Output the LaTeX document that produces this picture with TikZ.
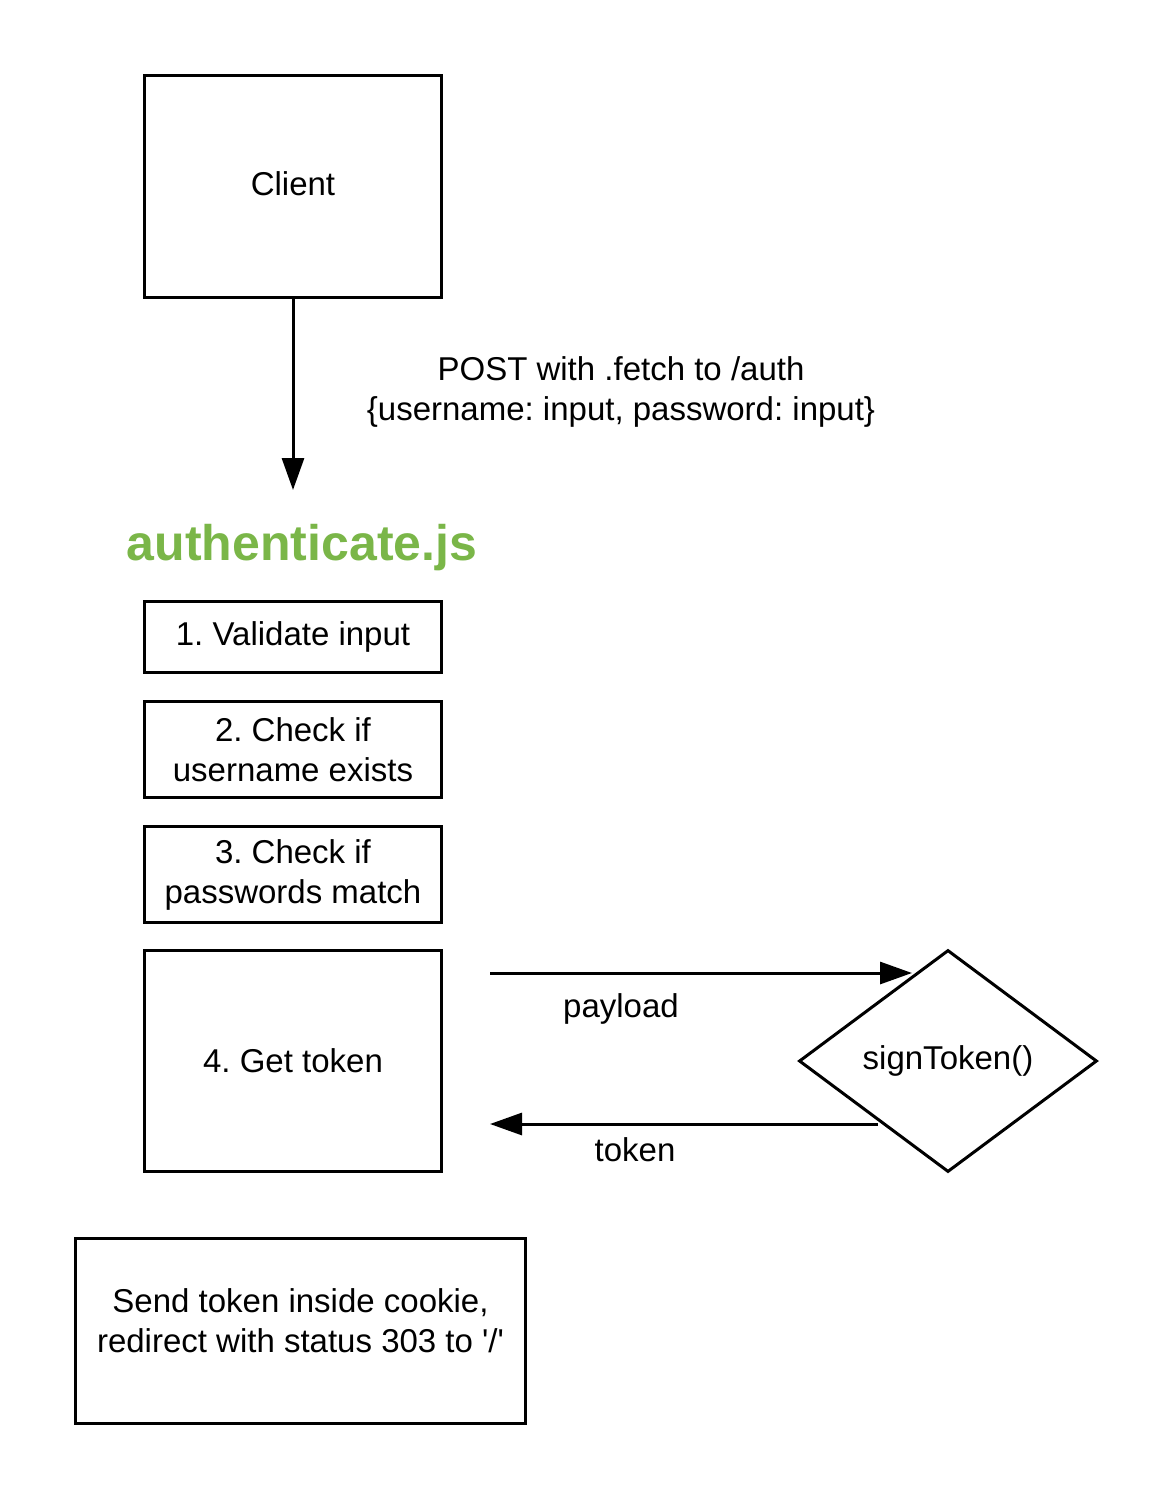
\documentclass[tikz,border=0pt]{standalone}
\usepackage{fontspec}
\setmainfont{Liberation Sans}[Ligatures=TeXOff]
\usetikzlibrary{arrows.meta,shapes.geometric}
\definecolor{jsgreen}{HTML}{7AB648}
\frenchspacing
\begin{document}
\begin{tikzpicture}[x=1pt,y=-1pt,
  box/.style={draw,line width=3pt,inner sep=0pt,align=center,font=\fontsize{33}{40}\selectfont\frenchspacing},
  lbl/.style={align=center,inner sep=0pt,font=\fontsize{33}{40}\selectfont\frenchspacing},
  conn/.style={line width=3pt,-{Triangle[length=32pt,width=22pt]}}]
\useasboundingbox (0,0) rectangle (1174,1500);
\node[box,minimum width=297pt,minimum height=222pt,text depth=6pt] (client) at (293,186.5) {Client};
\coordinate (authtop) at (293,490);
\draw[conn] (client.south) -- (authtop);
\node[lbl] (post) at (621,392) {POST with .fetch to /auth\\\{username: input, password: input\}};
\node[inner sep=0pt,font=\fontsize{50}{60}\selectfont\bfseries,text=jsgreen] (title) at (302,548) {authenticate.js};
\node[box,minimum width=297pt,minimum height=71pt] (s1) at (293,637) {1. Validate input};
\node[box,minimum width=297pt,minimum height=96pt] (s2) at (293,749.5) {2. Check if\\username exists};
\node[box,minimum width=297pt,minimum height=96pt] (s3) at (293,874.5) {3. Check if\\passwords match};
\node[box,minimum width=297pt,minimum height=221pt] (s4) at (293,1061) {4. Get token};
\node[draw,line width=3pt,shape=diamond,inner sep=0pt,minimum width=298pt,minimum height=222pt,font=\fontsize{33}{40}\selectfont] (sign) at (948,1061) {signToken()};
\coordinate (payA) at (490,973);
\coordinate (payB) at (912,973);
\draw[conn] (payA) -- (payB);
\node[lbl] (payload) at (621,1009) {payload};
\coordinate (tokA) at (878,1124);
\coordinate (tokB) at (490,1124);
\draw[conn] (tokA) -- (tokB);
\node[lbl] (token) at (635,1150) {token};
\node[box,minimum width=450pt,minimum height=185pt,text depth=19pt] (send) at (300.5,1330.5) {Send token inside cookie,\\redirect with status 303 to '/'};
\end{tikzpicture}
\end{document}
